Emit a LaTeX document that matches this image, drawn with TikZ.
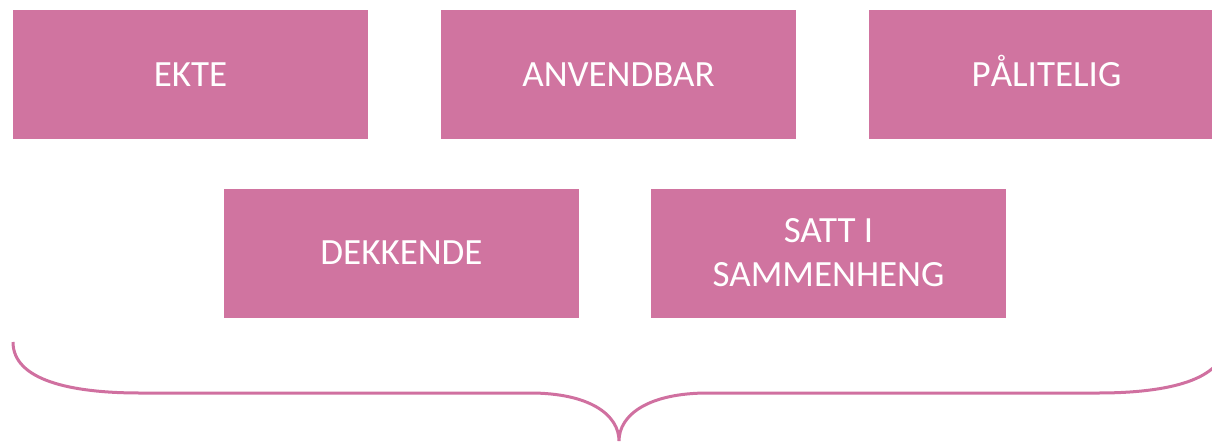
\documentclass[tikz,border=0pt]{standalone}
\usepackage{fontspec}
\setmainfont{Carlito}
\definecolor{boxpink}{RGB}{208,116,160}
\definecolor{bracepink}{RGB}{208,112,160}
\begin{document}
\begin{tikzpicture}[x=1pt,y=-1pt,
  pinkbox/.style={fill=boxpink,draw=none,minimum width=355pt,minimum height=129pt,
    text=white,align=center,inner sep=0pt,font=\fontsize{37}{44}\selectfont},
  bracestyle/.style={draw=bracepink,line width=3pt}]
\useasboundingbox (0,0) rectangle (1212,444);
\clip (0,0) rectangle (1212,444);
\node[pinkbox] (ekte) at (190.5,74.5) {EKTE};
\node[pinkbox] (anvendbar) at (618.5,74.5) {ANVENDBAR};
\node[pinkbox] (palitelig) at (1046.5,74.5) {P\smash{Å}LITELIG};
\node[pinkbox] (dekkende) at (401.5,253) {DEKKENDE};
\node[pinkbox] (satt) at (828.5,253) {SATT I\\SAMMENHENG};
\coordinate (bl) at (13,342);
\coordinate (tip) at (619,441);
\coordinate (br) at (1225,342);
\draw[bracestyle] (bl) .. controls (13,380) and (70,393) .. (140,393)
  -- (530,393) .. controls (590,393) and (619,415) .. (tip)
  .. controls (619,415) and (648,393) .. (708,393)
  -- (1098,393) .. controls (1168,393) and (1225,380) .. (br);
\end{tikzpicture}
\end{document}
